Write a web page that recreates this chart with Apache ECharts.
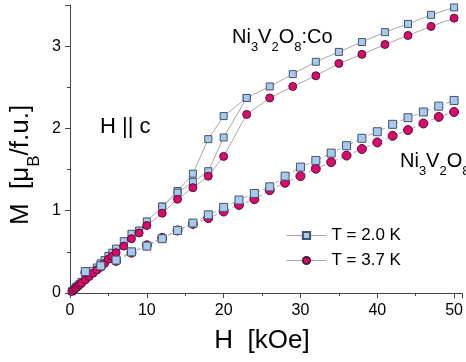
<!DOCTYPE html>
<html lang="en">
<head>
    <meta charset="UTF-8">
    <title>Ni3V2O8 magnetization</title>
    <script src="https://cdn.jsdelivr.net/npm/echarts@6/dist/echarts.min.js"></script>
    <style>
        html, body { margin: 0; background: #fff; }
        #chart { width: 466px; height: 362px; }
    </style>
</head>
<body>
    <div id="chart"></div>
    <script>
        // Ni3V2O8:Co, common field points (kOe)
        var coField = [0.25, 0.5, 0.75, 1, 1.25, 1.5, 2, 2.5, 3, 3.5, 4, 4.5, 5, 5.5, 6, 7, 8, 9, 10, 12, 14, 16, 18, 20, 23, 26, 29, 32, 35, 38, 41, 44, 47, 50];
        // T = 2.0 K, first sweep
        var coSquare = [0.02, 0.045, 0.07, 0.09, 0.11, 0.135, 0.18, 0.22, 0.27, 0.31, 0.36, 0.40, 0.45, 0.49, 0.54, 0.63, 0.72, 0.76, 0.87, 1.05, 1.24, 1.45, 1.87, 2.15, 2.37, 2.51, 2.66, 2.81, 2.93, 3.05, 3.17, 3.27, 3.38, 3.47];
        // T = 2.0 K, second branch in the transition region
        var coFieldB = [12, 14, 16, 18, 20, 23];
        var coSquareB = [1.05, 1.22, 1.35, 1.48, 1.89, 2.37];
        // T = 3.7 K
        var coCircle = [0.02, 0.04, 0.06, 0.08, 0.10, 0.12, 0.16, 0.20, 0.24, 0.28, 0.32, 0.36, 0.41, 0.45, 0.49, 0.57, 0.66, 0.73, 0.82, 0.97, 1.14, 1.28, 1.42, 1.66, 2.17, 2.37, 2.51, 2.64, 2.79, 2.90, 3.02, 3.13, 3.24, 3.34];

        // Ni3V2O8
        var pureField = [2, 4, 6, 8, 10, 12, 14, 16, 18, 20, 22, 24, 26, 28, 30, 32, 34, 36, 38, 40, 42, 44, 46, 48, 50];
        var pureSquare = [0.26, 0.33, 0.40, 0.50, 0.57, 0.66, 0.76, 0.85, 0.95, 1.04, 1.13, 1.21, 1.29, 1.42, 1.53, 1.61, 1.70, 1.79, 1.88, 1.96, 2.05, 2.13, 2.20, 2.27, 2.34];
        var pureCircle = [0.25, 0.32, 0.39, 0.49, 0.58, 0.67, 0.76, 0.84, 0.91, 0.99, 1.07, 1.14, 1.25, 1.34, 1.42, 1.51, 1.59, 1.67, 1.75, 1.83, 1.91, 1.98, 2.06, 2.14, 2.20];

        var xTicks = [0, 10, 20, 30, 40, 50];
        var yTicks = [0, 1, 2, 3];
        var legendNames = ['T = 2.0 K', 'T = 3.7 K'];

        var FONT = '"Liberation Sans", Arial, sans-serif';

        function pairs(xs, ys) {
            return xs.map(function (x, i) { return [x, ys[i]]; });
        }

        var squareStyle = { color: '#a7c9ee', borderColor: '#44546a', borderWidth: 1 };
        var circleStyle = { color: '#dc066f', borderColor: '#4e1832', borderWidth: 1 };

        function series(name, data, symbol, size, itemStyle, dashed) {
            return {
                name: name,
                type: 'line',
                data: data,
                symbol: symbol,
                symbolSize: size,
                itemStyle: itemStyle,
                lineStyle: { color: '#a8a8a8', width: 1, type: dashed ? [4, 3] : 'solid' },
                emphasis: { disabled: true }
            };
        }

        // rich text pieces: main text sits at the top of the line, subscripts at the bottom
        function tok(size, lh, va) {
            return { fontSize: size, fontFamily: FONT, lineHeight: lh, verticalAlign: va, fill: '#000' };
        }

        var option = {
            animation: false,
            backgroundColor: '#fff',
            grid: { left: 70, right: 4, top: 5, bottom: 69 },
            legend: {
                data: legendNames,
                orient: 'vertical',
                left: 281,
                top: 222,
                itemWidth: 40,
                itemHeight: 9,
                itemGap: 8,
                lineStyle: { width: 1, color: '#a8a8a8' },
                textStyle: { fontSize: 17, fontFamily: FONT, color: '#000' }
            },
            xAxis: {
                type: 'value',
                min: 0,
                max: 51,
                interval: 10,
                axisLine: { lineStyle: { color: '#444', width: 1 } },
                axisTick: { length: 5, lineStyle: { color: '#444' } },
                minorTick: { show: true, splitNumber: 2, length: 3, lineStyle: { color: '#444' } },
                splitLine: { show: false },
                axisLabel: {
                    margin: 10, fontSize: 16, fontFamily: FONT, color: '#000',
                    formatter: function (v) { return xTicks.indexOf(v) >= 0 ? String(v) : ''; }
                }
            },
            yAxis: {
                type: 'value',
                min: 0,
                max: 3.5,
                interval: 1,
                axisLine: { show: true, lineStyle: { color: '#444', width: 1 } },
                axisTick: { show: true, length: 5, lineStyle: { color: '#444' } },
                minorTick: { show: true, splitNumber: 2, length: 3, lineStyle: { color: '#444' } },
                splitLine: { show: false },
                axisLabel: {
                    margin: 9, fontSize: 16, fontFamily: FONT, color: '#000',
                    formatter: function (v) { return yTicks.indexOf(v) >= 0 ? String(v) : ''; }
                }
            },
            series: [
                series(legendNames[0], pairs(coField, coSquare), 'rect', 7, squareStyle, false),
                series(legendNames[0], pairs(coFieldB, coSquareB), 'rect', 7, squareStyle, false),
                series(legendNames[1], pairs(coField, coCircle), 'circle', 8, circleStyle, false),
                series(legendNames[1], pairs(pureField, pureCircle), 'circle', 9, circleStyle, true),
                series(legendNames[0], pairs(pureField, pureSquare), 'rect', 8, squareStyle, true)
            ],
            graphic: [
                {
                    type: 'text', x: 232, y: 27,
                    style: {
                        text: '{m|Ni}{s|3}{m|V}{s|2}{m|O}{s|8}{m|:Co}',
                        align: 'left', verticalAlign: 'top',
                        rich: { m: tok(20, 20, 'top'), s: tok(13, 27, 'bottom') }
                    }
                },
                {
                    type: 'text', x: 400, y: 151,
                    style: {
                        text: '{m|Ni}{s|3}{m|V}{s|2}{m|O}{s|8}',
                        align: 'left', verticalAlign: 'top',
                        rich: { m: tok(20, 20, 'top'), s: tok(13, 27, 'bottom') }
                    }
                },
                {
                    type: 'text', x: 100, y: 127,
                    style: { text: 'H || c', font: '22px ' + FONT, fill: '#000', align: 'left', verticalAlign: 'middle' }
                },
                {
                    type: 'text', x: 262, y: 341,
                    style: { text: 'H  [kOe]', font: '26px ' + FONT, fill: '#000', align: 'center', verticalAlign: 'middle' }
                },
                {
                    type: 'text', x: 8, y: 165, rotation: Math.PI / 2,
                    style: {
                        text: '{m|M  [μ}{s|B}{m|/f.u.]}',
                        align: 'center', verticalAlign: 'top',
                        rich: { m: tok(26, 26, 'top'), s: tok(17, 35, 'bottom') }
                    }
                }
            ]
        };

        var chart = echarts.init(document.getElementById('chart'), null, { renderer: 'canvas' });
        chart.setOption(option);
    </script>
</body>
</html>
